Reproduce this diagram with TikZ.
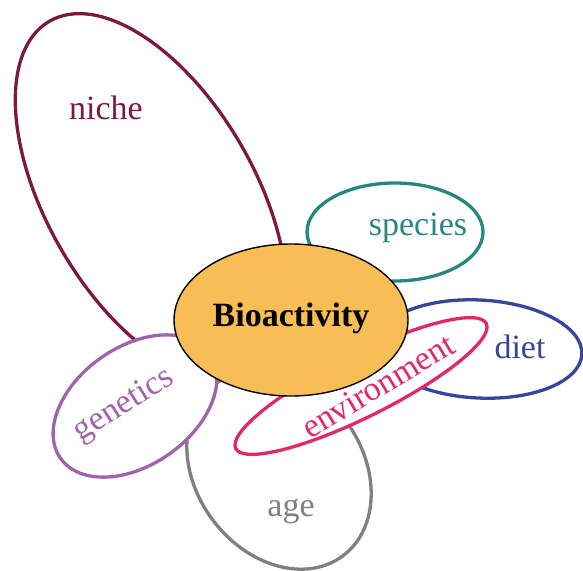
\documentclass[tikz,border=0pt]{standalone}
\usepackage{fontspec}
\setmainfont{Liberation Serif}
\usetikzlibrary{shapes.geometric}
\definecolor{nicheC}{RGB}{125,24,64}
\definecolor{speciesC}{RGB}{38,135,128}
\definecolor{dietC}{RGB}{55,70,155}
\definecolor{envC}{RGB}{225,40,105}
\definecolor{genC}{RGB}{160,100,170}
\definecolor{ageC}{RGB}{128,128,128}
\definecolor{bioC}{RGB}{246,190,85}
\tikzset{
  petal/.style={ellipse, draw, line width=3.3pt, inner sep=0pt, outer sep=0pt, fill=white},
  lbl/.style={inner sep=0pt, font=\fontsize{34}{36}\selectfont},
}
\begin{document}
\begin{tikzpicture}[x=1pt,y=-1pt]
\useasboundingbox (0,0) rectangle (583,570);
% petals, back to front
\node[petal, draw=nicheC, fill=none, minimum width=406, minimum height=208, rotate=-60] (niche) at (151,197) {};
\node[petal, draw=speciesC, minimum width=176, minimum height=98] (species) at (395,232) {};
\node[petal, draw=dietC, minimum width=206, minimum height=98, rotate=-3] (diet) at (479,349) {};
\node[petal, draw=ageC, minimum width=214, minimum height=166, rotate=-53.5] (age) at (279,470) {};
\node[petal, draw=envC, minimum width=280, minimum height=62, rotate=26.5] (env) at (361,386) {};
\node[petal, draw=genC, minimum width=182, minimum height=118, rotate=35] (gen) at (135,406) {};
\node[ellipse, draw=black, line width=1.4pt, fill=bioC, inner sep=0pt, minimum width=234, minimum height=152] (bio) at (291,320) {};
% labels
\node[lbl, text=nicheC] (nicheT) at (106,108) {niche};
\node[lbl, text=speciesC] (speciesT) at (418,228) {species};
\node[lbl, text=dietC] (dietT) at (520,347) {diet};
\node[lbl, text=envC, rotate=31] (envT) at (378,386) {environment};
\node[lbl, text=genC, rotate=32] (genT) at (124,406) {genetics};
\node[lbl, text=ageC] (ageT) at (291,511) {age};
\node[lbl, font=\fontsize{34}{36}\selectfont\bfseries] (bioT) at (291,318) {Bioactivity};
\end{tikzpicture}
\end{document}
